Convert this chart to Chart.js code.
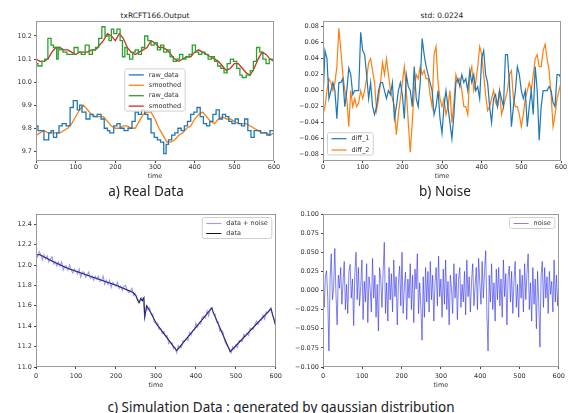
<!DOCTYPE html>
<html>
<head>
<meta charset="utf-8">
<script src="https://cdn.jsdelivr.net/npm/chart.js@4.4.0/dist/chart.umd.min.js"></script>
<style>
body { margin: 0; background: #fff; width: 568px; height: 413px; position: relative; overflow: hidden; font-family: "DejaVu Sans", sans-serif; }
canvas { position: absolute; }
.ttl { position: absolute; font-size: 7.5px; color: #222; transform: translate(-50%, -50%); white-space: nowrap; }
.cap { position: absolute; font-family: "Noto Sans", sans-serif; font-size: 13.5px; color: #222; transform: translate(-50%, -50%); white-space: nowrap; }
</style>
</head>
<body>
<div class="ttl" style="left:155px;top:15px">txRCFT166.Output</div>
<div class="ttl" style="left:442px;top:14.5px">std: 0.0224</div>
<canvas id="chartA" width="285" height="180" style="left:0;top:0"></canvas>
<canvas id="chartB" width="285" height="180" style="left:283px;top:0"></canvas>
<canvas id="chartC" width="285" height="194" style="left:0;top:195px"></canvas>
<canvas id="chartD" width="285" height="194" style="left:283px;top:195px"></canvas>
<div class="cap" style="left:146px;top:191px">a) Real Data</div>
<div class="cap" style="left:445px;top:191px">b) Noise</div>
<div class="cap" style="left:281px;top:407px">c) Simulation Data : generated by gaussian distribution</div>
<script>
// ---- data ----
const xTicks = [0, 100, 200, 300, 400, 500, 600];

// a) Real Data
const aTicks = [9.7, 9.8, 9.9, 10.0, 10.1, 10.2];
const rawBlueT = [0,5,10,20,32,38,44,52,58,66,76,86,94,104,110,116,126,136,144,154,164,172,180,186,196,204,212,222,232,242,250,258,266,274,282,290,298,306,314,322,328,334,342,350,358,366,374,382,390,398,406,414,422,430,438,446,454,462,470,478,486,494,502,510,518,526,534,542,550,558,566,574,582,590,596,600];
const rawBlue = [9.76,9.81,9.79,9.79,9.75,9.78,9.79,9.76,9.78,9.81,9.82,9.81,9.89,9.92,9.88,9.90,9.87,9.84,9.86,9.85,9.86,9.84,9.80,9.79,9.78,9.81,9.82,9.80,9.79,9.80,9.83,9.87,9.86,9.88,9.86,9.84,9.78,9.76,9.75,9.74,9.69,9.73,9.75,9.77,9.78,9.80,9.79,9.81,9.83,9.86,9.87,9.89,9.85,9.82,9.81,9.83,9.86,9.88,9.84,9.86,9.85,9.83,9.82,9.84,9.82,9.81,9.84,9.79,9.76,9.79,9.79,9.78,9.78,9.77,9.79,9.79];
const rawGreenT = [0,5,15,22,30,38,44,52,56,60,68,78,86,96,106,114,124,134,142,150,158,166,174,184,190,196,204,212,218,224,230,236,244,250,258,266,274,282,290,298,306,314,322,330,338,346,354,362,370,378,386,394,402,410,418,426,434,442,450,458,466,474,482,490,498,506,514,520,530,540,548,556,564,572,580,588,596,600];
const rawGreen = [10.10,10.08,10.07,10.09,10.10,10.19,10.16,10.15,10.10,10.15,10.14,10.13,10.12,10.12,10.15,10.13,10.12,10.16,10.12,10.14,10.15,10.19,10.24,10.20,10.18,10.23,10.21,10.23,10.18,10.11,10.15,10.12,10.10,10.13,10.14,10.12,10.15,10.20,10.18,10.16,10.17,10.14,10.16,10.13,10.14,10.11,10.09,10.10,10.12,10.10,10.11,10.12,10.16,10.13,10.12,10.13,10.12,10.10,10.11,10.09,10.07,10.06,10.04,10.08,10.10,10.09,10.06,10.03,10.02,10.03,10.05,10.09,10.15,10.13,10.10,10.08,10.10,10.10];
const smoothT = [0,10,20,30,40,50,60,70,80,90,100,110,120,130,140,150,160,170,180,190,200,210,220,230,240,250,260,270,280,290,300,310,320,330,340,350,360,370,380,390,400,410,420,430,440,450,460,470,480,490,500,510,520,530,540,550,560,570,580,590,600];
const smoothOrange = [9.77,9.78,9.79,9.78,9.78,9.78,9.78,9.79,9.80,9.82,9.85,9.88,9.90,9.88,9.86,9.85,9.85,9.85,9.83,9.81,9.80,9.80,9.81,9.81,9.80,9.80,9.83,9.86,9.87,9.87,9.84,9.80,9.77,9.74,9.74,9.75,9.77,9.78,9.80,9.81,9.84,9.86,9.87,9.85,9.83,9.82,9.84,9.85,9.84,9.84,9.83,9.82,9.82,9.82,9.81,9.80,9.79,9.78,9.78,9.77,9.78];
const smoothRed = [10.10,10.09,10.09,10.10,10.13,10.15,10.15,10.14,10.14,10.13,10.12,10.13,10.13,10.13,10.14,10.14,10.16,10.18,10.21,10.20,10.18,10.21,10.19,10.15,10.13,10.12,10.13,10.14,10.15,10.18,10.17,10.15,10.15,10.14,10.12,10.10,10.09,10.10,10.11,10.11,10.13,10.14,10.13,10.12,10.11,10.10,10.09,10.07,10.05,10.06,10.08,10.08,10.06,10.04,10.03,10.06,10.10,10.13,10.12,10.10,10.09];

// b) Noise (time step 5)
const bTicks = [-0.08, -0.06, -0.04, -0.02, 0, 0.02, 0.04, 0.06, 0.08];
const diff1 = [-0.01,0.05,0.04,-0.01,0,0.01,0,-0.035,0.01,0.01,0.015,-0.02,0,0.028,0.02,-0.005,0,0,0,0.073,0.05,0.045,0.02,-0.01,0.01,-0.02,-0.03,-0.02,0,0.01,0.01,0,-0.01,0,-0.005,0.01,-0.035,-0.02,0,0.01,-0.005,-0.035,0.02,0.005,0,-0.02,0.03,-0.01,-0.02,0.01,0.065,0.045,0.03,0.02,0.01,0,-0.03,-0.02,0,-0.035,-0.053,-0.02,0,-0.02,-0.04,-0.06,-0.03,0.01,0.015,0.005,0.02,0.01,0.015,0,0.025,0.01,0.02,0,0.005,-0.01,0.04,0.05,0.02,0.01,-0.02,-0.04,-0.01,-0.005,-0.02,0,-0.01,-0.02,0.045,0.045,0.01,-0.045,-0.02,0,0.03,0.02,0,-0.01,0,-0.045,-0.02,0,-0.03,0.03,0,-0.062,-0.02,0,0,0,0.005,0,-0.015,-0.02,0.02,0.02,0.015];
const diff2 = [-0.03,-0.02,0,0.015,0.01,0,0.01,0.03,0.078,0.05,0.02,0,-0.01,-0.045,0,-0.02,-0.01,-0.02,-0.015,0,-0.01,0,0.015,0.035,0.04,0.025,0.01,-0.025,-0.01,0.01,0.035,0.02,0.04,0.02,0,-0.01,-0.02,-0.055,-0.03,-0.01,0.01,0.03,0,-0.04,-0.077,-0.04,0,0.02,0.015,0.03,0.02,0.025,0.015,0.015,-0.005,-0.02,0.045,0.055,0.01,-0.01,-0.02,-0.01,-0.03,-0.02,0,-0.04,-0.015,0.02,0.01,0.015,0,-0.02,-0.02,-0.03,0.02,0.03,0,0.01,0.03,0.055,0.045,0.02,-0.005,-0.025,-0.02,-0.01,0,-0.015,-0.02,0,-0.03,-0.02,-0.01,0,0.02,0.025,-0.01,-0.02,-0.02,-0.03,-0.045,-0.03,-0.01,0,0.01,0,0.02,0.04,0.045,0.03,0.03,0.05,0.058,0.04,0.025,-0.005,-0.045,-0.03,-0.01,0,0.01];

// c) Simulation data
const cTicks = [11.0, 11.2, 11.4, 11.6, 11.8, 12.0, 12.2, 12.4];
const dataT = [0,10,40,77,150,202,243,250,255,258,262,266,270,272,277,285,302,352,440,443,486,588,600];
const dataV = [12.10,12.10,12.04,11.97,11.87,11.80,11.73,11.70,11.65,11.63,11.67,11.65,11.68,11.49,11.60,11.55,11.42,11.16,11.58,11.54,11.15,11.57,11.40];
// data + noise, time step 4
const dataNoise = [12.11,12.08,12.13,12.10,12.05,12.10,12.06,12.09,12.03,12.06,12.08,12.01,12.03,11.99,12.03,11.99,12.03,11.95,11.99,11.99,11.95,12.00,11.95,11.92,11.96,11.94,11.91,11.96,11.88,11.93,11.93,11.88,11.90,11.93,11.87,11.89,11.85,11.89,11.86,11.89,11.84,11.85,11.89,11.81,11.85,11.81,11.85,11.78,11.83,11.81,11.79,11.83,11.77,11.79,11.75,11.79,11.80,11.75,11.73,11.74,11.77,11.70,11.72,11.67,11.66,11.64,11.68,11.67,11.48,11.59,11.56,11.58,11.52,11.52,11.44,11.43,11.43,11.37,11.38,11.33,11.35,11.30,11.31,11.23,11.24,11.24,11.18,11.19,11.14,11.21,11.19,11.19,11.26,11.26,11.28,11.26,11.34,11.31,11.36,11.36,11.43,11.39,11.43,11.42,11.49,11.50,11.48,11.55,11.50,11.57,11.58,11.52,11.52,11.44,11.44,11.35,11.36,11.34,11.26,11.22,11.20,11.18,11.14,11.20,11.18,11.22,11.19,11.26,11.26,11.25,11.32,11.30,11.33,11.31,11.38,11.37,11.37,11.42,11.45,11.42,11.46,11.46,11.51,11.47,11.54,11.53,11.56,11.58,11.50,11.47,11.40];

// d) noise (time step 3)
const dTicks = [-0.1, -0.075, -0.05, -0.025, 0, 0.025, 0.05, 0.075, 0.1];
const noise = [0.012,-0.022,0.018,0.026,-0.008,-0.079,0.015,0.048,-0.012,0.004,
    0.055,-0.005,-0.045,0.020,0.003,0.030,-0.018,0.010,0.038,-0.025,
    0.008,-0.030,0.025,0.034,-0.010,0.015,-0.046,0.022,0.050,-0.012,
    0.030,-0.020,0.005,0.040,-0.038,0.012,-0.015,0.035,-0.042,0.018,
    0.003,-0.028,0.042,-0.010,0.020,-0.035,0.008,-0.053,0.030,0.014,
    -0.022,0.025,0.063,-0.030,0.010,-0.040,0.030,-0.012,0.022,-0.028,
    0.040,-0.008,0.018,-0.045,0.012,0.032,-0.020,0.050,-0.030,0.006,
    0.024,-0.038,0.015,-0.010,0.035,-0.025,0.020,-0.042,0.028,0.002,
    0.048,-0.030,0.010,-0.022,-0.065,0.018,-0.035,0.030,-0.015,0.025,
    -0.028,0.038,-0.012,0.020,-0.040,0.010,0.030,-0.020,0.045,-0.008,
    0.015,-0.035,0.028,-0.018,0.040,-0.025,0.012,-0.045,0.020,0.002,
    -0.030,0.035,-0.010,0.022,-0.038,0.015,0.030,-0.022,0.008,-0.015,
    0.025,-0.032,0.040,-0.008,0.018,-0.028,0.012,0.035,-0.020,0.005,
    0.030,-0.025,0.042,0.010,-0.018,0.038,-0.010,0.025,0.052,-0.030,
    -0.079,0.020,-0.015,0.035,-0.025,0.010,-0.040,0.028,-0.012,0.030,
    -0.020,0.015,-0.035,0.040,-0.008,0.022,-0.045,0.018,0.032,-0.015,
    0.025,-0.030,0.012,0.038,-0.022,0.008,-0.035,0.028,-0.010,0.020,
    -0.028,0.035,-0.012,0.022,0.048,-0.025,0.010,-0.040,0.030,-0.018,
    0.015,-0.050,0.025,-0.015,-0.074,0.020,0.038,-0.022,0.030,-0.010,
    0.018,-0.030,0.025,-0.005,0.012,-0.028,0.040,-0.015,0.020,-0.020,
    0.010];

// ---- helpers ----
function range(start, stop, step) {
    const out = [];
    for (let v = start; v <= stop; v += step) out.push(v);
    return out;
}
function pts(ts, vs) {
    return ts.map((t, i) => ({ x: t, y: vs[i] }));
}
function fmt(n) {
    return v => (v < 0 ? '\u2212' : '') + Math.abs(v).toFixed(n);
}

Chart.defaults.font.family = '"DejaVu Sans", sans-serif';

// matplotlib-like frame and legend
const mplFrame = {
    id: 'mplFrame',
    afterDraw(chart, args, opts) {
        const ctx = chart.ctx;
        const a = chart.chartArea;
        ctx.save();
        ctx.strokeStyle = '#9a9a9a';
        ctx.lineWidth = 1;
        ctx.strokeRect(Math.round(a.left) + 0.5, Math.round(a.top) + 0.5,
            Math.round(a.right - a.left) - 1, Math.round(a.bottom - a.top) - 1);

        const items = chart.data.datasets;
        ctx.font = '6.5px "DejaVu Sans"';
        const rowH = opts.rowH || 10.5, handle = 15, pad = 4, gap = 5;
        const textW = Math.max(...items.map(d => ctx.measureText(d.label).width));
        const w = pad + handle + gap + textW + pad;
        const h = 11 + rowH * (items.length - 1);
        let x, y;
        if (opts.loc === 'center') {
            x = (a.left + a.right) / 2 - w / 2;
            y = (a.top + a.bottom) / 2 - h / 2 - 1;
        } else if (opts.loc === 'upper right') {
            x = a.right - 4 - w;
            y = a.top + 3.5;
        } else {
            x = a.left + 4.5;
            y = a.bottom - 6 - h;
        }
        ctx.beginPath();
        ctx.roundRect(x, y, w, h, 2);
        ctx.fillStyle = 'rgba(255,255,255,0.8)';
        ctx.fill();
        ctx.strokeStyle = '#d0d0d0';
        ctx.stroke();
        items.forEach((d, i) => {
            const cy = y + 6 + i * rowH;
            ctx.beginPath();
            ctx.moveTo(x + pad, cy);
            ctx.lineTo(x + pad + handle, cy);
            ctx.strokeStyle = d.borderColor;
            ctx.lineWidth = d.borderWidth;
            ctx.stroke();
            ctx.fillStyle = '#333';
            ctx.textBaseline = 'middle';
            ctx.fillText(d.label, x + pad + handle + gap, cy);
        });
        ctx.restore();
    }
};

function makeOptions(o) {
    return {
        responsive: false,
        animation: false,
        layout: { padding: o.pad },
        plugins: { legend: { display: false }, tooltip: { enabled: false }, mplFrame: { loc: o.loc, rowH: o.rowH } },
        elements: { point: { radius: 0 }, line: { tension: 0 } },
        scales: {
            x: {
                type: 'linear', min: 0, max: 600,
                afterBuildTicks: s => { s.ticks = xTicks.map(v => ({ value: v })); },
                afterFit: s => { s.height = o.xh; },
                grid: { drawOnChartArea: false, tickLength: 2, color: '#444' },
                border: { display: false },
                ticks: { padding: o.xpad, font: { size: 6.5 }, color: '#333', maxRotation: 0, autoSkip: false },
                title: { display: true, text: 'time', font: { size: 6.5 }, color: '#333', padding: 0 }
            },
            y: {
                min: o.ymin, max: o.ymax,
                afterBuildTicks: s => { s.ticks = o.yTicks.map(v => ({ value: v })); },
                afterFit: s => { s.width = o.yw; },
                grid: { drawOnChartArea: false, tickLength: 2, color: '#444' },
                border: { display: false },
                ticks: { padding: 2, font: { size: 6.5 }, color: '#333', autoSkip: false, callback: o.fmt }
            }
        }
    };
}

function line(label, data, color, width, extra) {
    return Object.assign({ label: label, data: data, borderColor: color, borderWidth: width, fill: false, pointRadius: 0 }, extra || {});
}

// a) Real Data
new Chart(document.getElementById('chartA'), {
    type: 'line',
    data: {
        datasets: [
            line('raw_data', pts(rawBlueT, rawBlue), '#1f77b4', 1.3, { stepped: 'after' }),
            line('smoothed', pts(smoothT, smoothOrange), '#ff7f0e', 1.3),
            line('raw_data', pts(rawGreenT, rawGreen), '#2ca02c', 1.3, { stepped: 'after' }),
            line('smoothed', pts(smoothT, smoothRed), '#d62728', 1.3)
        ]
    },
    options: makeOptions({ pad: { top: 21, right: 11, left: 0, bottom: 0 }, xh: 19, xpad: 0, yw: 36,
        ymin: 9.658, ymax: 10.265, yTicks: aTicks, fmt: fmt(1), loc: 'center', rowH: 10.4 }),
    plugins: [mplFrame]
});

// b) Noise
const tB = range(0, 600, 5);
new Chart(document.getElementById('chartB'), {
    type: 'line',
    data: {
        datasets: [
            line('diff_1', pts(tB, diff1), '#1f77b4', 1.2),
            line('diff_2', pts(tB, diff2), '#ff7f0e', 1.2)
        ]
    },
    options: makeOptions({ pad: { top: 21, right: 7, left: 0, bottom: 0 }, xh: 19, xpad: 0, yw: 40,
        ymin: -0.088, ymax: 0.087, yTicks: bTicks, fmt: fmt(2), loc: 'lower left', rowH: 11.3 }),
    plugins: [mplFrame]
});

// c) Simulation data
new Chart(document.getElementById('chartC'), {
    type: 'line',
    data: {
        datasets: [
            line('data + noise', pts(range(0, 600, 4), dataNoise), 'rgba(70,70,255,0.55)', 1.1),
            line('data', pts(dataT, dataV), '#111', 1.05)
        ]
    },
    options: makeOptions({ pad: { top: 19, right: 9, left: 0, bottom: 0 }, xh: 22, xpad: 3, yw: 36,
        ymin: 11.0, ymax: 12.5, yTicks: cTicks, fmt: fmt(1), loc: 'upper right', rowH: 10 }),
    plugins: [mplFrame]
});

// d) noise
new Chart(document.getElementById('chartD'), {
    type: 'line',
    data: {
        datasets: [
            line('noise', pts(range(0, 600, 3), noise), 'rgba(50,50,235,0.62)', 1)
        ]
    },
    options: makeOptions({ pad: { top: 19, right: 7, left: 0, bottom: 0 }, xh: 22, xpad: 3, yw: 40,
        ymin: -0.1, ymax: 0.1, yTicks: dTicks, fmt: fmt(3), loc: 'upper right', rowH: 10 }),
    plugins: [mplFrame]
});
</script>
</body>
</html>
